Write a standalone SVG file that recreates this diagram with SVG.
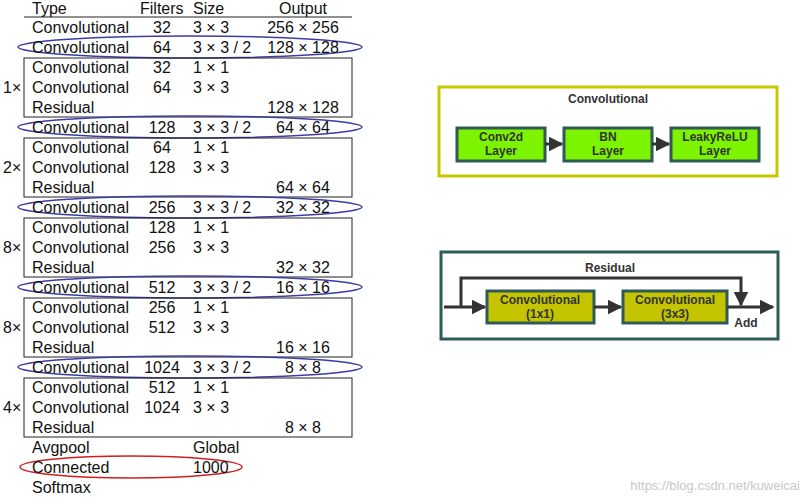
<svg xmlns="http://www.w3.org/2000/svg" width="810" height="500" viewBox="0 0 810 500">
<style>
.t{font-family:"Liberation Sans",Arial,sans-serif;font-size:16px;fill:#111}
.c{text-anchor:middle}
.bx{fill:none;stroke:#222;stroke-width:1}
.el{fill:none;stroke:#3a3fa0;stroke-width:1.6}
.b{font-family:"Liberation Sans",Arial,sans-serif;font-size:12px;font-weight:bold;fill:#333;text-anchor:middle}
.gn{fill:#7cf400;stroke:#2f5a58;stroke-width:3}
.ol{fill:#c4c400;stroke:#2f5a58;stroke-width:3}
.ln{stroke:#333;stroke-width:3;fill:none}
</style>
<defs><marker id="ah2" markerWidth="5" markerHeight="5" refX="4.5" refY="2.5" orient="auto" markerUnits="strokeWidth"><path d="M0,0L5,2.5L0,5z" fill="#333"/></marker></defs>
<g id="table">
<line x1="24" y1="17" x2="352" y2="17" stroke="#222" stroke-width="1"/>
<text class="t" x="32" y="14">Type</text><text class="t" x="140" y="14">Filters</text><text class="t" x="193" y="14">Size</text><text class="t c" x="303" y="14">Output</text>
<g id="r1"><text class="t" x="32" y="33">Convolutional</text><text class="t c" x="162" y="33">32</text><text class="t" x="193" y="33">3 × 3</text><text class="t c" x="303" y="33">256 × 256</text></g>
<g id="r2"><ellipse class="el" cx="190" cy="47" rx="172" ry="11"/><text class="t" x="32" y="53">Convolutional</text><text class="t c" x="162" y="53">64</text><text class="t" x="193" y="53">3 × 3 / 2</text><text class="t c" x="303" y="53">128 × 128</text></g>
<g id="b1"><rect class="bx" x="24" y="58" width="328" height="59"/><text class="t" x="3" y="93">1×</text>
<text class="t" x="32" y="73">Convolutional</text><text class="t c" x="162" y="73">32</text><text class="t" x="193" y="73">1 × 1</text>
<text class="t" x="32" y="93">Convolutional</text><text class="t c" x="162" y="93">64</text><text class="t" x="193" y="93">3 × 3</text>
<text class="t" x="32" y="113">Residual</text><text class="t c" x="303" y="113">128 × 128</text></g>
<g id="r6"><ellipse class="el" cx="190" cy="127" rx="172" ry="11"/><text class="t" x="32" y="133">Convolutional</text><text class="t c" x="162" y="133">128</text><text class="t" x="193" y="133">3 × 3 / 2</text><text class="t c" x="303" y="133">64 × 64</text></g>
<g id="b2"><rect class="bx" x="24" y="138" width="328" height="59"/><text class="t" x="3" y="173">2×</text>
<text class="t" x="32" y="153">Convolutional</text><text class="t c" x="162" y="153">64</text><text class="t" x="193" y="153">1 × 1</text>
<text class="t" x="32" y="173">Convolutional</text><text class="t c" x="162" y="173">128</text><text class="t" x="193" y="173">3 × 3</text>
<text class="t" x="32" y="193">Residual</text><text class="t c" x="303" y="193">64 × 64</text></g>
<g id="r10"><ellipse class="el" cx="190" cy="207" rx="172" ry="11"/><text class="t" x="32" y="213">Convolutional</text><text class="t c" x="162" y="213">256</text><text class="t" x="193" y="213">3 × 3 / 2</text><text class="t c" x="303" y="213">32 × 32</text></g>
<g id="b3"><rect class="bx" x="24" y="218" width="328" height="59"/><text class="t" x="3" y="253">8×</text>
<text class="t" x="32" y="233">Convolutional</text><text class="t c" x="162" y="233">128</text><text class="t" x="193" y="233">1 × 1</text>
<text class="t" x="32" y="253">Convolutional</text><text class="t c" x="162" y="253">256</text><text class="t" x="193" y="253">3 × 3</text>
<text class="t" x="32" y="273">Residual</text><text class="t c" x="303" y="273">32 × 32</text></g>
<g id="r14"><ellipse class="el" cx="190" cy="287" rx="172" ry="11"/><text class="t" x="32" y="293">Convolutional</text><text class="t c" x="162" y="293">512</text><text class="t" x="193" y="293">3 × 3 / 2</text><text class="t c" x="303" y="293">16 × 16</text></g>
<g id="b4"><rect class="bx" x="24" y="298" width="328" height="59"/><text class="t" x="3" y="333">8×</text>
<text class="t" x="32" y="313">Convolutional</text><text class="t c" x="162" y="313">256</text><text class="t" x="193" y="313">1 × 1</text>
<text class="t" x="32" y="333">Convolutional</text><text class="t c" x="162" y="333">512</text><text class="t" x="193" y="333">3 × 3</text>
<text class="t" x="32" y="353">Residual</text><text class="t c" x="303" y="353">16 × 16</text></g>
<g id="r18"><ellipse class="el" cx="190" cy="367" rx="172" ry="11"/><text class="t" x="32" y="373">Convolutional</text><text class="t c" x="162" y="373">1024</text><text class="t" x="193" y="373">3 × 3 / 2</text><text class="t c" x="303" y="373">8 × 8</text></g>
<g id="b5"><rect class="bx" x="24" y="378" width="328" height="59"/><text class="t" x="3" y="413">4×</text>
<text class="t" x="32" y="393">Convolutional</text><text class="t c" x="162" y="393">512</text><text class="t" x="193" y="393">1 × 1</text>
<text class="t" x="32" y="413">Convolutional</text><text class="t c" x="162" y="413">1024</text><text class="t" x="193" y="413">3 × 3</text>
<text class="t" x="32" y="433">Residual</text><text class="t c" x="303" y="433">8 × 8</text></g>
<text class="t" x="32" y="453">Avgpool</text><text class="t" x="193" y="453">Global</text>
<g id="fc"><ellipse cx="131" cy="467" rx="111" ry="11" fill="none" stroke="#d02020" stroke-width="1.6"/><text class="t" x="32" y="473">Connected</text><text class="t" x="193" y="473">1000</text></g>
<text class="t" x="32" y="493">Softmax</text>
</g>
<g id="convblock">
<rect x="439" y="87" width="338" height="89" fill="#fff" stroke="#c8c800" stroke-width="3"/>
<text class="b" x="608" y="103">Convolutional</text>
<g id="conv2d"><rect class="gn" x="457" y="128" width="88" height="33"/><text class="b" x="501" y="141">Conv2d</text><text class="b" x="501" y="155">Layer</text></g>
<g id="bn"><rect class="gn" x="564" y="128" width="88" height="33"/><text class="b" x="608" y="141">BN</text><text class="b" x="608" y="155">Layer</text></g>
<g id="leaky"><rect class="gn" x="671" y="128" width="88" height="33"/><text class="b" x="715" y="141">LeakyReLU</text><text class="b" x="715" y="155">Layer</text></g>
</g>
<g id="resblock">
<rect x="441" y="252" width="337" height="87" fill="#fff" stroke="#2a5f58" stroke-width="3"/>
<text class="b" x="610" y="272">Residual</text>
<g id="c1"><rect class="ol" x="487" y="291" width="107" height="32"/><text class="b" x="540" y="304">Convolutional</text><text class="b" x="540" y="318">(1x1)</text></g>
<g id="c2"><rect class="ol" x="623" y="291" width="104" height="32"/><text class="b" x="675" y="304">Convolutional</text><text class="b" x="675" y="318">(3x3)</text></g>
<text class="b" x="746" y="327">Add</text>
</g>
<g id="connectors">
<line class="ln" x1="545" y1="144" x2="562" y2="144" marker-end="url(#ah2)"/>
<line class="ln" x1="652" y1="144" x2="669" y2="144" marker-end="url(#ah2)"/>
<line class="ln" x1="444" y1="307" x2="485" y2="307" marker-end="url(#ah2)"/>
<line class="ln" x1="594" y1="307" x2="621" y2="307" marker-end="url(#ah2)"/>
<line class="ln" x1="727" y1="307" x2="773" y2="307" marker-end="url(#ah2)"/>
<polyline class="ln" points="461,307 461,278 741,278 741,305" marker-end="url(#ah2)"/>
</g>
<text x="800" y="490" text-anchor="end" font-family="Liberation Sans,Arial,sans-serif" font-size="13" fill="#c8c8c8">https://blog.csdn.net/kuweicai</text>
</svg>
